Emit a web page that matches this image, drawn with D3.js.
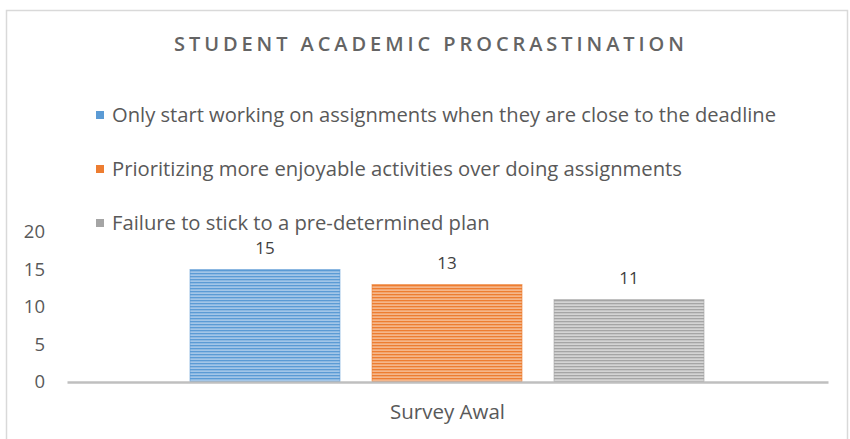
<!DOCTYPE html>
<html><head><meta charset="utf-8">
<script src="https://cdn.jsdelivr.net/npm/d3@7"></script>
<style>html,body{margin:0;padding:0;background:#fff;} svg{display:block;}</style>
</head><body>
<svg id="c" width="850" height="439"></svg>
<script>
const title = "STUDENT ACADEMIC PROCRASTINATION";
const categories = ["Survey Awal"];
const seriesNames = [
  "Only start working on assignments when they are close to the deadline",
  "Prioritizing more enjoyable activities over doing assignments",
  "Failure to stick to a pre-determined plan"
];
const seriesValues = [15, 13, 11];
const seriesColors = ["#5B9BD5", "#ED7D31", "#A5A5A5"];
const seriesLight = ["#A3C6E8", "#F5B68A", "#D4D4D4"];
const yTicks = [0, 5, 10, 15, 20];

const FONT = "'Open Sans', Lato, sans-serif";
const svg = d3.select("#c");

// fit font size of a text element to a target width
function fitWidth(sel, target) {
  const node = sel.node();
  const fs = +sel.attr("font-size");
  const w = node.getComputedTextLength();
  sel.attr("font-size", (fs * target / w).toFixed(2));
}

// chart border
svg.append("rect").attr("x",6.5).attr("y",10.5).attr("width",841).attr("height",440)
  .attr("fill","#fff").attr("stroke","#d9d9d9").attr("stroke-width",1.5);

// patterns
const defs = svg.append("defs");
seriesColors.forEach((c,i)=>{
  const p = defs.append("pattern").attr("id","pat"+i).attr("patternUnits","userSpaceOnUse")
    .attr("width",6).attr("height",3);
  p.append("rect").attr("width",6).attr("height",3).attr("fill",seriesLight[i]);
  p.append("rect").attr("width",6).attr("height",1.3).attr("fill",c);
});

// title
const t = svg.append("text").attr("x",174).attr("y",51)
  .attr("font-family",FONT).attr("font-size",20).attr("font-weight",600).attr("letter-spacing",0)
  .attr("fill","#646464").text(title);
{
  const w0 = t.node().getComputedTextLength();
  const ls = (510 - w0) / (title.length - 1);
  t.attr("letter-spacing", ls.toFixed(2));
}

// legend
const legY = [122, 176, 230];
const legW = [664, 570, 378];
seriesNames.forEach((n,i)=>{
  svg.append("rect").attr("x",96).attr("y",legY[i]-11).attr("width",8).attr("height",8)
    .attr("fill",seriesColors[i]);
  const lt = svg.append("text").attr("x",112).attr("y",legY[i]).attr("font-family",FONT)
    .attr("font-size",17).attr("fill","#595959").text(n);
  fitWidth(lt, legW[i]);
});

// scales
const y = d3.scaleLinear().domain([0,20]).range([382,232]);
const x0 = d3.scaleBand().domain(categories).range([67,828]).paddingInner(0).paddingOuter(0);
const x1 = d3.scaleBand().domain(seriesNames).range([190,704]).paddingInner(0.176);

// y axis
const yAxis = d3.axisLeft(y).tickValues(yTicks).tickSize(0).tickPadding(0);
const gy = svg.append("g").attr("transform","translate(45,0)").call(yAxis);
gy.select(".domain").remove();
gy.selectAll("text").attr("font-family",FONT).attr("font-size",18.5).attr("fill","#595959");

// bars
const gb = svg.append("g");
seriesNames.forEach((n,i)=>{
  const v = seriesValues[i];
  gb.append("rect").attr("x",x1(n)).attr("y",y(v)).attr("width",x1.bandwidth())
    .attr("height",y(0)-y(v)).attr("fill","url(#pat"+i+")")
    .attr("stroke",seriesColors[i]).attr("stroke-width",1).attr("stroke-opacity",0.6);
  gb.append("text").attr("x",x1(n)+x1.bandwidth()/2).attr("y",y(v)-15.5)
    .attr("text-anchor","middle").attr("font-family",FONT).attr("font-size",17)
    .attr("fill","#404040").text(v);
});

// x axis
const xAxis = d3.axisBottom(x0).tickSize(0).tickPadding(22);
const gx = svg.append("g").attr("transform","translate(0,382)").call(xAxis);
gx.select(".domain").attr("stroke","#BFBFBF").attr("stroke-width",2.5);
gx.selectAll("text").attr("font-family",FONT).attr("font-size",17).attr("fill","#595959")
  .each(function(){ fitWidth(d3.select(this), 115); });
</script>
</body></html>
